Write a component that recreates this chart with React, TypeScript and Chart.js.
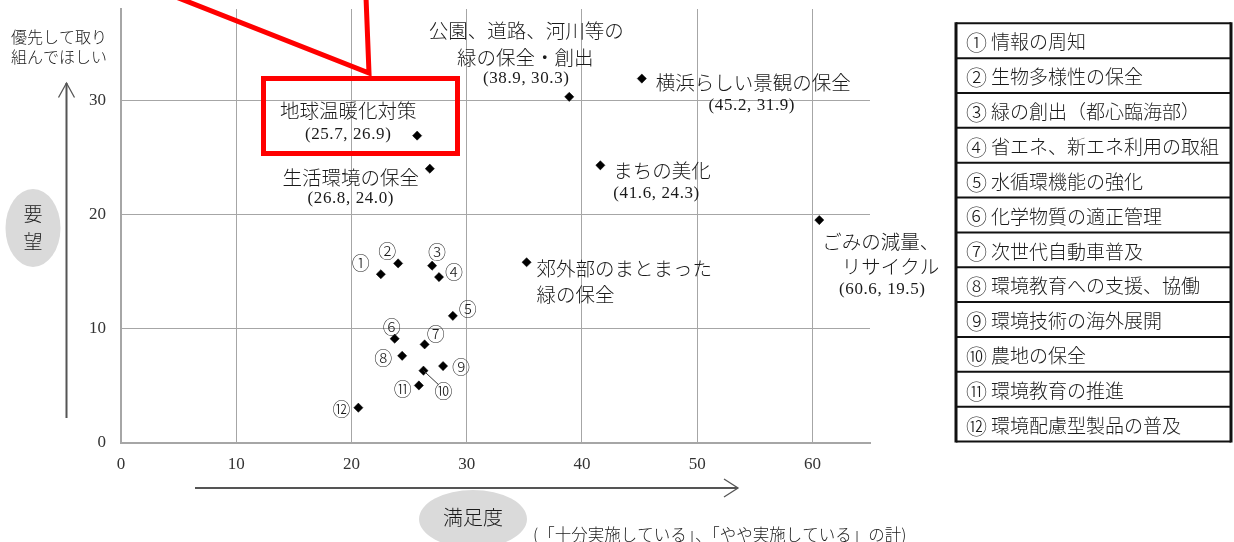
import React, { useEffect, useRef } from "react";
import { Chart, registerables } from "chart.js";

Chart.register(...registerables);

// ---------- data ----------
const mainNames = [
  "地球温暖化対策",
  "生活環境の保全",
  "公園、道路、河川等の\n緑の保全・創出",
  "横浜らしい景観の保全",
  "まちの美化",
  "ごみの減量、\nリサイクル",
  "郊外部のまとまった\n緑の保全",
];
const mainX = [25.7, 26.8, 38.9, 45.2, 41.6, 60.6, 35.2];
const mainY = [26.9, 24.0, 30.3, 31.9, 24.3, 19.5, 15.8];
const mainShowValue = [true, true, true, true, true, true, false];

const numMarks = ["①", "②", "③", "④", "⑤", "⑥", "⑦", "⑧", "⑨", "⑩", "⑪", "⑫"];
const numNames = [
  "情報の周知",
  "生物多様性の保全",
  "緑の創出（都心臨海部）",
  "省エネ、新エネ利用の取組",
  "水循環機能の強化",
  "化学物質の適正管理",
  "次世代自動車普及",
  "環境教育への支援、協働",
  "環境技術の海外展開",
  "農地の保全",
  "環境教育の推進",
  "環境配慮型製品の普及",
];
const numX = [22.55, 24.05, 27.0, 27.6, 28.8, 23.75, 26.35, 24.4, 27.95, 26.25, 25.85, 20.6];
const numY = [14.75, 15.7, 15.5, 14.5, 11.1, 9.1, 8.6, 7.6, 6.7, 6.3, 5.0, 3.05];

const xTicks = [0, 10, 20, 30, 40, 50, 60];
const yTicks = [0, 10, 20, 30];
const yAxisNote = ["優先して取り", "組んでほしい"];
const yAxisTitle = "要望";
const xAxisTitle = "満足度";
const xAxisNote = "(「十分実施している」、「やや実施している」の計)";

// ---------- styles ----------
const CJK = "'Noto Sans CJK JP', sans-serif";
const SERIF = "'Liberation Serif', 'Noto Sans CJK JP', serif";
const TEXT = "#1a1a1a";

// label layout offsets (pixels, relative to each point)
const mainLayout: { lines: [number, number, CanvasTextAlign][]; value: [number, number, CanvasTextAlign] }[] = [
  { lines: [[-69, -25, "center"]], value: [-69, -1, "center"] },
  { lines: [[-79, 9, "center"]], value: [-79, 30, "center"] },
  { lines: [[-43, -66, "center"], [-44, -39, "center"]], value: [-43, -18, "center"] },
  { lines: [[14, 4, "left"]], value: [110, 27, "center"] },
  { lines: [[13, 5, "left"]], value: [13, 28, "left"] },
  { lines: [[3, 22, "left"], [120, 47, "right"]], value: [63, 69, "center"] },
  { lines: [[10, 6, "left"], [10, 32, "left"]], value: [0, 0, "left"] },
];
const numLayout: [number, number][] = [
  [-20, -11], [-11, -12], [5, -14], [15, -5], [15, -7], [-3, -12],
  [11, -10], [-19, 2], [18, 1], [20, 21], [-16, 4], [-17, 1],
];

function text(ctx: CanvasRenderingContext2D, s: string, x: number, y: number, font: string, align: CanvasTextAlign = "left", color = TEXT, spacing = "0px") {
  ctx.font = font;
  ctx.textAlign = align;
  ctx.textBaseline = "middle";
  ctx.fillStyle = color;
  (ctx as any).letterSpacing = spacing;
  ctx.fillText(s, x, y);
  (ctx as any).letterSpacing = "0px";
}

const decor = {
  id: "decor",
  afterDatasetsDraw(chart: any) {
    const ctx: CanvasRenderingContext2D = chart.ctx;
    const xs = chart.scales.x;
    const ys = chart.scales.y;
    ctx.save();

    // main labels
    mainNames.forEach((name, i) => {
      const px = xs.getPixelForValue(mainX[i]);
      const py = ys.getPixelForValue(mainY[i]);
      const lay = mainLayout[i];
      name.split("\n").forEach((line, j) => {
        const [dx, dy, al] = lay.lines[j];
        text(ctx, line, px + dx, py + dy, `300 19.5px ${CJK}`, al);
      });
      if (mainShowValue[i]) {
        const [dx, dy, al] = lay.value;
        text(ctx, `(${mainX[i].toFixed(1)}, ${mainY[i].toFixed(1)})`, px + dx, py + dy, `17px ${SERIF}`, al, TEXT, "0.6px");
      }
    });

    // numbered labels
    numMarks.forEach((m, i) => {
      const px = xs.getPixelForValue(numX[i]);
      const py = ys.getPixelForValue(numY[i]);
      const [dx, dy] = numLayout[i];
      text(ctx, m, px + dx, py + dy, `300 18px ${CJK}`, "center");
      if (i === 9) {
        ctx.strokeStyle = "#333";
        ctx.lineWidth = 1;
        ctx.beginPath();
        ctx.moveTo(px, py);
        ctx.lineTo(px + 15, py + 14);
        ctx.stroke();
      }
    });

    // y-axis decorations
    text(ctx, yAxisNote[0], 59, 37, `300 16px ${CJK}`, "center");
    text(ctx, yAxisNote[1], 59, 57, `300 16px ${CJK}`, "center");
    ctx.strokeStyle = "#555";
    ctx.lineWidth = 2;
    ctx.beginPath();
    ctx.moveTo(66.5, 418);
    ctx.lineTo(66.5, 83);
    ctx.stroke();
    ctx.lineWidth = 1.3;
    ctx.beginPath();
    ctx.moveTo(58.5, 97.5);
    ctx.lineTo(66.5, 83);
    ctx.lineTo(74.5, 97.5);
    ctx.stroke();
    ctx.fillStyle = "#dadada";
    ctx.beginPath();
    ctx.ellipse(33, 228, 27.5, 39, 0, 0, Math.PI * 2);
    ctx.fill();
    text(ctx, yAxisTitle[0], 33, 214, `300 19px ${CJK}`, "center");
    text(ctx, yAxisTitle[1], 33, 242, `300 19px ${CJK}`, "center");

    // x-axis decorations
    ctx.strokeStyle = "#555";
    ctx.lineWidth = 2;
    ctx.beginPath();
    ctx.moveTo(195, 488);
    ctx.lineTo(738, 488);
    ctx.stroke();
    ctx.lineWidth = 1.3;
    ctx.beginPath();
    ctx.moveTo(724, 479);
    ctx.lineTo(738, 488);
    ctx.lineTo(724, 497);
    ctx.stroke();
    ctx.fillStyle = "#dadada";
    ctx.beginPath();
    ctx.ellipse(473, 519, 54, 29, 0, 0, Math.PI * 2);
    ctx.fill();
    text(ctx, xAxisTitle, 473, 517, `300 20px ${CJK}`, "center");
    text(ctx, xAxisNote, 533, 535, `300 16.5px ${CJK}`, "left");

    // legend table
    const tTop = 23.3, rowH = 34.85, tLeft = 956, tRight = 1231;
    ctx.strokeStyle = "#111";
    ctx.lineWidth = 2;
    for (let i = 0; i <= numNames.length; i++) {
      const y = tTop + i * rowH;
      ctx.beginPath();
      ctx.moveTo(tLeft, y);
      ctx.lineTo(tRight, y);
      ctx.stroke();
    }
    ctx.lineWidth = 3;
    ctx.beginPath();
    ctx.moveTo(tLeft, tTop - 1);
    ctx.lineTo(tLeft, tTop + numNames.length * rowH + 1);
    ctx.moveTo(tRight, tTop - 1);
    ctx.lineTo(tRight, tTop + numNames.length * rowH + 1);
    ctx.stroke();
    numNames.forEach((n, i) => {
      const cy = tTop + i * rowH + rowH / 2 + 1.5;
      text(ctx, numMarks[i], 966, cy, `300 21px ${CJK}`, "left");
      text(ctx, n, 991, cy, `300 19px ${CJK}`, "left");
    });

    // red annotation
    ctx.strokeStyle = "#ff0000";
    ctx.lineWidth = 5;
    ctx.strokeRect(263.5, 78.5, 194, 75);
    ctx.beginPath();
    ctx.moveTo(176, -3);
    ctx.lineTo(369, 73);
    ctx.lineTo(366, -3);
    ctx.stroke();

    ctx.restore();
  },
};

export default function App() {
  const ref = useRef<HTMLCanvasElement>(null);
  useEffect(() => {
    if (!ref.current) return;
    const chart = new Chart(ref.current, {
      type: "scatter",
      data: {
        datasets: [
          {
            data: mainX.map((x, i) => ({ x, y: mainY[i] })),
            pointStyle: "rectRot",
            pointRadius: 4.6,
            pointBackgroundColor: "#000",
            pointBorderColor: "#000",
            pointBorderWidth: 0.5,
          },
          {
            data: numX.map((x, i) => ({ x, y: numY[i] })),
            pointStyle: "rectRot",
            pointRadius: 4.6,
            pointBackgroundColor: "#000",
            pointBorderColor: "#000",
            pointBorderWidth: 0.5,
          },
        ],
      },
      options: {
        animation: false,
        responsive: false,
        devicePixelRatio: 1,
        layout: { padding: { top: 9, right: 364, left: 0, bottom: 0 } },
        plugins: { legend: { display: false }, tooltip: { enabled: false } },
        scales: {
          x: {
            type: "linear",
            min: 0,
            max: 65,
            afterBuildTicks: (s: any) => {
              s.ticks = xTicks.map((v) => ({ value: v }));
            },
            afterFit: (s: any) => {
              s.height = 99.5;
              s.paddingLeft = 0;
              s.paddingRight = 0;
            },
            grid: { color: "#a6a6a6", lineWidth: 1, drawTicks: false },
            border: { display: true, color: "#a6a6a6", width: 2 },
            ticks: { padding: 12, color: "#333", font: { family: SERIF, size: 17 } },
          },
          y: {
            type: "linear",
            min: 0,
            max: 38,
            afterBuildTicks: (s: any) => {
              s.ticks = yTicks.map((v) => ({ value: v }));
            },
            afterFit: (s: any) => {
              s.width = 121;
              s.paddingTop = 0;
              s.paddingBottom = 0;
            },
            grid: { color: "#a6a6a6", lineWidth: 1, drawTicks: false },
            border: { display: true, color: "#a6a6a6", width: 2 },
            ticks: { padding: 15, color: "#333", font: { family: SERIF, size: 17 } },
          },
        },
      },
      plugins: [decor],
    } as any);
    return () => chart.destroy();
  }, []);
  return (
    <div style={{ position: "absolute", left: 0, top: 0, width: 1234, height: 542, background: "#fff" }}>
      <canvas ref={ref} width={1234} height={542} style={{ display: "block" }} />
    </div>
  );
}
